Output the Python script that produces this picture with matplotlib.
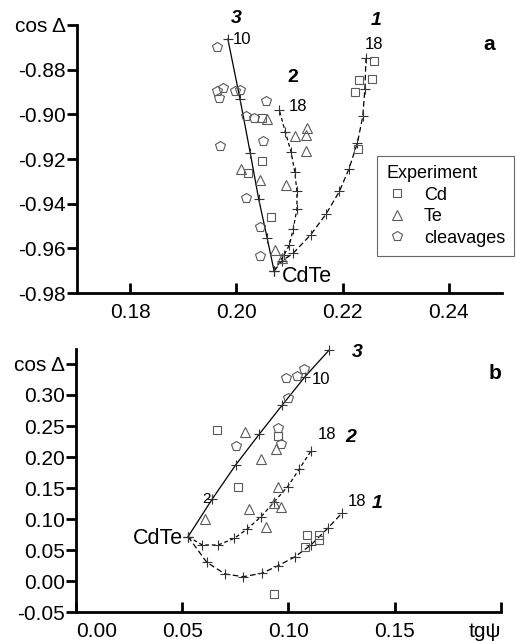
import matplotlib
matplotlib.use('Agg')
import matplotlib.pyplot as plt
from matplotlib.lines import Line2D

plt.rcParams['font.family'] = ['Liberation Sans', 'DejaVu Sans']

#%% data, panel a (tg psi vs cos Delta)
a_c1_x = [0.2071, 0.2086, 0.2107, 0.2140, 0.2169, 0.2194, 0.2212, 0.2228, 0.2238, 0.2242, 0.2244]
a_c1_y = [-0.9701, -0.9656, -0.9622, -0.9539, -0.9446, -0.9345, -0.9244, -0.9127, -0.9008, -0.8885, -0.8750]
a_c2_x = [0.2071, 0.2090, 0.2100, 0.2107, 0.2114, 0.2114, 0.2110, 0.2103, 0.2092, 0.2081]
a_c2_y = [-0.9701, -0.9629, -0.9584, -0.9514, -0.9424, -0.9345, -0.9258, -0.9168, -0.9078, -0.8982]
a_c3_x = [0.2071, 0.2058, 0.2042, 0.2026, 0.2007, 0.1984]
a_c3_y = [-0.9701, -0.9554, -0.9379, -0.9171, -0.8933, -0.8663]

a_cd_x = [0.2259, 0.2231, 0.2255, 0.2223, 0.2229, 0.2048, 0.2048, 0.2022, 0.2065]
a_cd_y = [-0.8762, -0.8847, -0.8843, -0.8901, -0.9153, -0.9018, -0.9207, -0.9261, -0.9458]
a_te_x = [0.2009, 0.2045, 0.2058, 0.2072, 0.2085, 0.2094, 0.2111, 0.2132, 0.2131, 0.2133]
a_te_y = [-0.9243, -0.9292, -0.9023, -0.9607, -0.9644, -0.9315, -0.9098, -0.9165, -0.9094, -0.9063]
a_cl_x = [0.1964, 0.1963, 0.1974, 0.1967, 0.1997, 0.2006, 0.2019, 0.2033, 0.2055, 0.2051, 0.1970, 0.2018, 0.2044, 0.2045]
a_cl_y = [-0.8700, -0.8895, -0.8880, -0.8928, -0.8895, -0.8890, -0.9008, -0.9016, -0.8940, -0.9121, -0.9143, -0.9374, -0.9506, -0.9636]

#%% data, panel b
b_c1_x = [0.0527, 0.0615, 0.0701, 0.0787, 0.0874, 0.0949, 0.1031, 0.1106, 0.1185, 0.1251]
b_c1_y = [0.0718, 0.0305, 0.0117, 0.0073, 0.0128, 0.0246, 0.0395, 0.0584, 0.0853, 0.1094]
b_c2_x = [0.0527, 0.0594, 0.0669, 0.0745, 0.0806, 0.0871, 0.0933, 0.0996, 0.1051, 0.1106]
b_c2_y = [0.0718, 0.0584, 0.0584, 0.0692, 0.0842, 0.1040, 0.1281, 0.1523, 0.1808, 0.2098]
b_c3_x = [0.0527, 0.0641, 0.0751, 0.0863, 0.0971, 0.1078, 0.1192]
b_c3_y = [0.0718, 0.1325, 0.1872, 0.2372, 0.2839, 0.3295, 0.3725]

b_cd_x = [0.0662, 0.0949, 0.0761, 0.1086, 0.1144, 0.1144, 0.1078, 0.0932]
b_cd_y = [0.2436, 0.2344, 0.1523, 0.0745, 0.0745, 0.0664, 0.0547, -0.0210]
b_te_x = [0.0795, 0.0869, 0.0941, 0.0952, 0.0607, 0.0814, 0.0932, 0.0963, 0.0893]
b_te_y = [0.2409, 0.1969, 0.2130, 0.1513, 0.0998, 0.1164, 0.1256, 0.1201, 0.0879]
b_cl_x = [0.0987, 0.1039, 0.1075, 0.0996, 0.0952, 0.0965, 0.0751]
b_cl_y = [0.3278, 0.3311, 0.3418, 0.2947, 0.2473, 0.2206, 0.2183]

a_xticks = [0.18, 0.20, 0.22, 0.24]
a_yticks = [-0.98, -0.96, -0.94, -0.92, -0.90, -0.88, -0.86]
b_xticks = [0.00, 0.05, 0.10, 0.15, 0.20]
b_yticks = [-0.05, 0.00, 0.05, 0.10, 0.15, 0.20, 0.25, 0.30, 0.35]

grey = '#5a5a5a'
pluscol = '#333333'

def curves(ax, c1, c2, c3):
    ax.plot(*c1, color='k', lw=0.9, dashes=(4.5, 2.5), marker='+', ms=7, mew=0.8, mec=pluscol, clip_on=False)
    ax.plot(*c2, color='k', lw=0.9, dashes=(3, 2.2), marker='+', ms=7, mew=0.8, mec=pluscol, clip_on=False)
    ax.plot(*c3, color='k', lw=0.9, ls='-', marker='+', ms=7, mew=0.8, mec=pluscol, clip_on=False)

def points(ax, cd, te, cl):
    ax.plot(*cd, ls='none', marker='s', ms=5.5, mfc='none', mec=grey, mew=0.8)
    ax.plot(*te, ls='none', marker='^', ms=7, mfc='none', mec=grey, mew=0.8)
    ax.plot(*cl, ls='none', marker='p', ms=7, mfc='none', mec=grey, mew=0.8)

def style(ax):
    for s in ['top', 'right']:
        ax.spines[s].set_visible(False)
    for s in ['left', 'bottom']:
        ax.spines[s].set_linewidth(2)
    ax.tick_params(axis='x', direction='in', length=7, width=2, labelsize=15, pad=7)
    ax.tick_params(axis='y', direction='out', length=7, width=2, labelsize=15, pad=1)

fig = plt.figure(figsize=(5.16, 6.41), dpi=100)

#%% panel a
ax = fig.add_axes([0.1492, 0.5429, 0.8236, 0.4181])
curves(ax, (a_c1_x, a_c1_y), (a_c2_x, a_c2_y), (a_c3_x, a_c3_y))
points(ax, (a_cd_x, a_cd_y), (a_te_x, a_te_y), (a_cl_x, a_cl_y))
ax.set_xlim(0.17, 0.25)
ax.set_ylim(-0.98, -0.86)
style(ax)
ax.set_xticks(a_xticks)
ax.set_xticklabels(['%.2f' % v for v in a_xticks])
ax.set_yticks(a_yticks)
ax.set_yticklabels(['%.2f' % v for v in a_yticks[:-1]] + ['cos Δ'])
ax.get_yticklabels()[-1].set_fontsize(15)

ax.text(0.1999, -0.8573, '3', fontsize=14, fontweight='bold', fontstyle='italic', ha='center', va='center', clip_on=False)
ax.text(0.1994, -0.8666, '10', fontsize=12, ha='left', va='center')
ax.text(0.2107, -0.8835, '2', fontsize=14, fontweight='bold', ha='center', va='center')
ax.text(0.2099, -0.8967, '18', fontsize=12, ha='left', va='center')
ax.text(0.2263, -0.8581, '1', fontsize=14, fontweight='bold', fontstyle='italic', ha='center', va='center', clip_on=False)
ax.text(0.2242, -0.8686, '18', fontsize=12, ha='left', va='center')
ax.text(0.2476, -0.8686, 'a', fontsize=15, fontweight='bold', ha='center', va='center')
ax.text(0.2085, -0.9727, 'CdTe', fontsize=15.5, ha='left', va='center')

handles = [Line2D([], [], ls='none', marker='s', ms=5.5, mfc='none', mec=grey, mew=0.8),
           Line2D([], [], ls='none', marker='^', ms=7, mfc='none', mec=grey, mew=0.8),
           Line2D([], [], ls='none', marker='p', ms=7, mfc='none', mec=grey, mew=0.8)]
leg = ax.legend(handles, ['Cd', 'Te', 'cleavages'], title='Experiment', loc='upper left',
                bbox_to_anchor=(0.706, 0.511), fontsize=13, title_fontsize=13, alignment='left',
                frameon=True, fancybox=False, edgecolor='#444444', borderpad=0.5,
                labelspacing=0.25, handlelength=1.2, handletextpad=0.9, borderaxespad=0)
leg.get_frame().set_linewidth(0.8)

#%% panel b
ax = fig.add_axes([0.1477, 0.0448, 0.8227, 0.41])
curves(ax, (b_c1_x, b_c1_y), (b_c2_x, b_c2_y), (b_c3_x, b_c3_y))
points(ax, (b_cd_x, b_cd_y), (b_te_x, b_te_y), (b_cl_x, b_cl_y))
ax.set_xlim(0.0, 0.20)
ax.set_ylim(-0.05, 0.3733)
style(ax)
ax.set_xticks(b_xticks)
ax.set_xticklabels(['%.2f' % v for v in b_xticks[:-1]] + ['tgψ'])
xl = ax.get_xticklabels()
xl[0].set_horizontalalignment('left')
xl[-1].set_horizontalalignment('right')
ax.set_yticks(b_yticks)
ax.set_yticklabels(['%.2f' % v for v in b_yticks[:-1]] + ['cos Δ'])
ax.get_yticklabels()[-1].set_fontsize(15)

ax.text(0.1325, 0.3688, '3', fontsize=14, fontweight='bold', fontstyle='italic', ha='center', va='center', clip_on=False)
ax.text(0.1109, 0.3253, '10', fontsize=12, ha='left', va='center')
ax.text(0.1139, 0.2356, '18', fontsize=12, ha='left', va='center')
ax.text(0.1293, 0.2319, '2', fontsize=14, fontweight='bold', fontstyle='italic', ha='center', va='center')
ax.text(0.1280, 0.1281, '18', fontsize=12, ha='left', va='center')
ax.text(0.1420, 0.1255, '1', fontsize=14, fontweight='bold', fontstyle='italic', ha='center', va='center')
ax.text(0.1973, 0.3349, 'b', fontsize=15, fontweight='bold', ha='center', va='center')
ax.text(0.0633, 0.1325, '2', fontsize=11, ha='right', va='center')
ax.text(0.0505, 0.0690, 'CdTe', fontsize=15.5, ha='right', va='center')

fig.savefig('out.png', dpi=100)
